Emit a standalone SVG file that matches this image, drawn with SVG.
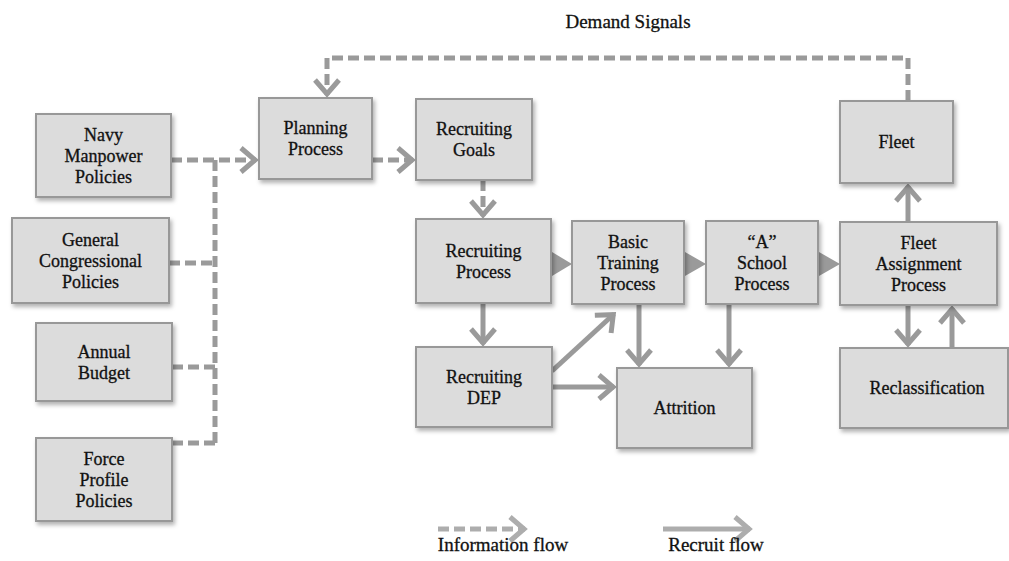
<svg xmlns="http://www.w3.org/2000/svg" width="1009" height="561" viewBox="0 0 1009 561">
  <defs>
    <style>
      .box { fill: #dcdcdc; stroke: #989898; stroke-width: 2; filter: url(#shadow); }
      .lbl { font-size: 18px; fill: #111111; stroke: #111111; stroke-width: 0.3; text-anchor: middle; }
      .cap { font-size: 19px; fill: #111111; stroke: #111111; stroke-width: 0.3; text-anchor: middle; }
      .info { fill: none; stroke: #9a9a9a; stroke-width: 5; stroke-dasharray: 11 5; }
      .recruit { fill: none; stroke: #9a9a9a; stroke-width: 5; }
      .head { fill: #9a9a9a; }
    </style>
    <filter id="shadow" x="-10%" y="-10%" width="125%" height="130%">
      <feDropShadow dx="2" dy="3" stdDeviation="2" flood-color="#000" flood-opacity="0.3"/>
    </filter>
    <marker id="chev" markerUnits="userSpaceOnUse" markerWidth="24" markerHeight="30" viewBox="0 0 24 30" refX="19" refY="15" orient="auto">
      <path d="M4,3 L18,15 L4,27" fill="none" stroke="#9a9a9a" stroke-width="5" stroke-linejoin="miter"/>
    </marker>
    <marker id="chevLight" markerUnits="userSpaceOnUse" markerWidth="24" markerHeight="30" viewBox="0 0 24 30" refX="19" refY="15" orient="auto">
      <path d="M4,3 L18,15 L4,27" fill="none" stroke="#adadad" stroke-width="5" stroke-linejoin="miter"/>
    </marker>
  </defs>

  <rect width="1009" height="561" fill="#ffffff"/>

  <g font-family="'Liberation Serif', 'DejaVu Serif', 'Times New Roman', serif">

  <text class="cap" x="628" y="28">Demand Signals</text>

  <!-- connectors -->
  <g id="connectors">
    <!-- information flow -->
    <path class="info" d="M171,160 H256" marker-end="url(#chev)"/>
    <path class="info" d="M215,160 V443"/>
    <path class="info" d="M169,263 H215"/>
    <path class="info" d="M172,367 H215"/>
    <path class="info" d="M172,443 H215"/>
    <path class="info" d="M372,160 H413" marker-end="url(#chev)"/>
    <path class="info" d="M483,180 V216" marker-end="url(#chev)"/>
    <path class="info" d="M908,101 V58 H327 V95" marker-end="url(#chev)"/>

    <!-- recruit flow -->
    <path class="recruit" d="M483,303 V344" marker-end="url(#chev)"/>
    <path class="recruit" d="M552,387 H614" marker-end="url(#chev)"/>
    <path class="recruit" d="M552,371 L614,314" marker-end="url(#chev)"/>
    <path class="recruit" d="M639,304 V365" marker-end="url(#chev)"/>
    <path class="recruit" d="M729,304 V365" marker-end="url(#chev)"/>
    <path class="recruit" d="M908,222 V186" marker-end="url(#chev)"/>
    <path class="recruit" d="M908,305 V345" marker-end="url(#chev)"/>
    <path class="recruit" d="M952,348 V308" marker-end="url(#chev)"/>

    <!-- short stage-to-stage arrows -->
    <polygon class="head" points="552,252 572,264 552,276"/>
    <polygon class="head" points="685,252 706,264 685,276"/>
    <polygon class="head" points="819,252 840,264 819,276"/>
  </g>

  <!-- policy inputs -->
  <g id="navy-manpower">
    <rect class="box" x="36" y="114" width="135" height="83"/>
    <text class="lbl" x="103.5" y="140.5">Navy</text>
    <text class="lbl" x="103.5" y="161.5">Manpower</text>
    <text class="lbl" x="103.5" y="182.5">Policies</text>
  </g>
  <g id="congressional">
    <rect class="box" x="12" y="218" width="157" height="85"/>
    <text class="lbl" x="90.5" y="245.5">General</text>
    <text class="lbl" x="90.5" y="266.5">Congressional</text>
    <text class="lbl" x="90.5" y="287.5">Policies</text>
  </g>
  <g id="annual-budget">
    <rect class="box" x="36" y="323" width="136" height="78"/>
    <text class="lbl" x="104" y="357.5">Annual</text>
    <text class="lbl" x="104" y="378.5">Budget</text>
  </g>
  <g id="force-profile">
    <rect class="box" x="36" y="438" width="136" height="83"/>
    <text class="lbl" x="104" y="464.5">Force</text>
    <text class="lbl" x="104" y="485.5">Profile</text>
    <text class="lbl" x="104" y="506.5">Policies</text>
  </g>

  <!-- planning chain -->
  <g id="planning">
    <rect class="box" x="259" y="98" width="113" height="81"/>
    <text class="lbl" x="315.5" y="134">Planning</text>
    <text class="lbl" x="315.5" y="155">Process</text>
  </g>
  <g id="recruiting-goals">
    <rect class="box" x="416" y="99" width="116" height="81"/>
    <text class="lbl" x="474" y="135">Recruiting</text>
    <text class="lbl" x="474" y="156">Goals</text>
  </g>

  <!-- pipeline -->
  <g id="recruiting-process">
    <rect class="box" x="416" y="219" width="135" height="84"/>
    <text class="lbl" x="483.5" y="256.5">Recruiting</text>
    <text class="lbl" x="483.5" y="277.5">Process</text>
  </g>
  <g id="basic-training">
    <rect class="box" x="572" y="221" width="112" height="83"/>
    <text class="lbl" x="628" y="247.5">Basic</text>
    <text class="lbl" x="628" y="268.5">Training</text>
    <text class="lbl" x="628" y="289.5">Process</text>
  </g>
  <g id="a-school">
    <rect class="box" x="706" y="221" width="112" height="83"/>
    <text class="lbl" x="762" y="247.5">“A”</text>
    <text class="lbl" x="762" y="268.5">School</text>
    <text class="lbl" x="762" y="289.5">Process</text>
  </g>
  <g id="recruiting-dep">
    <rect class="box" x="416" y="347" width="136" height="80"/>
    <text class="lbl" x="484" y="382.5">Recruiting</text>
    <text class="lbl" x="484" y="403.5">DEP</text>
  </g>
  <g id="attrition">
    <rect class="box" x="617" y="368" width="135" height="80"/>
    <text class="lbl" x="684.5" y="414">Attrition</text>
  </g>

  <!-- fleet side -->
  <g id="fleet">
    <rect class="box" x="840" y="101" width="113" height="82"/>
    <text class="lbl" x="896.5" y="148">Fleet</text>
  </g>
  <g id="fleet-assignment">
    <rect class="box" x="840" y="222" width="157" height="83"/>
    <text class="lbl" x="918.5" y="248.5">Fleet</text>
    <text class="lbl" x="918.5" y="269.5">Assignment</text>
    <text class="lbl" x="918.5" y="290.5">Process</text>
  </g>
  <g id="reclassification">
    <rect class="box" x="840" y="348" width="168" height="80"/>
    <text class="lbl" x="927" y="394">Reclassification</text>
  </g>

  <!-- legend -->
  <g id="legend">
    <path class="info" d="M438,529 H525" style="stroke:#adadad" marker-end="url(#chevLight)"/>
    <path class="recruit" d="M663,529 H750" style="stroke:#adadad" marker-end="url(#chevLight)"/>
    <text class="cap" x="503" y="551">Information flow</text>
    <text class="cap" x="716" y="551">Recruit flow</text>
  </g>

  </g>
</svg>
